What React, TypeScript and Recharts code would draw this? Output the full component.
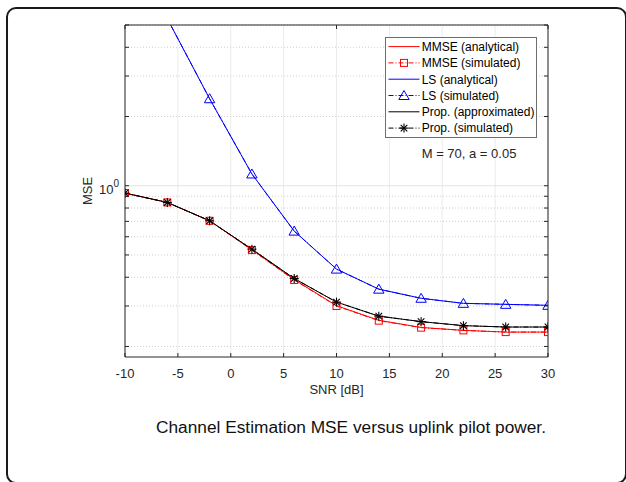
import { LineChart, Line, XAxis, YAxis, CartesianGrid, Legend } from 'recharts'

// SNR points (dB)
const snrDb = [-10, -6, -2, 2, 6, 10, 14, 18, 22, 26, 30]

// MSE values
const mmseAnalytical = [0.929, 0.846, 0.704, 0.527, 0.391, 0.301, 0.26, 0.242, 0.235, 0.231, 0.231]
const mmseSimulated = [0.929, 0.846, 0.704, 0.525, 0.389, 0.3, 0.259, 0.2415, 0.235, 0.231, 0.231]
const lsAnalytical = [12.0, 5.33, 2.39, 1.125, 0.635, 0.434, 0.355, 0.324, 0.308, 0.305, 0.302]
const lsSimulated = [12.0, 5.33, 2.39, 1.125, 0.635, 0.434, 0.355, 0.324, 0.308, 0.305, 0.302]
const propApproximated = [0.929, 0.846, 0.704, 0.53, 0.395, 0.312, 0.271, 0.2565, 0.2464, 0.243, 0.243]
const propSimulated = [0.929, 0.846, 0.704, 0.53, 0.395, 0.312, 0.271, 0.2565, 0.2464, 0.243, 0.243]

const seriesNames = [
  'MMSE (analytical)',
  'MMSE (simulated)',
  'LS (analytical)',
  'LS (simulated)',
  'Prop. (approximated)',
  'Prop. (simulated)',
]

const xTicks = [-10, -5, 0, 5, 10, 15, 20, 25, 30]
const yTicks = [0.2, 0.3, 0.4, 0.5, 0.6, 0.7, 0.8, 0.9, 1, 2, 3, 4, 5]
const yMinor = [0.2, 0.3, 0.4, 0.5, 0.6, 0.7, 0.8, 0.9, 2, 3, 4, 5]
const yMajor = [1]
const yDomain = [0.18, 5]
const xDomain = [-10, 30]

const annotation = 'M = 70, a = 0.05'
const caption = 'Channel Estimation MSE versus uplink pilot power.'
const xLabel = 'SNR [dB]'
const yLabel = 'MSE'

const data = snrDb.map((snr, i) => ({
  snr,
  mmseA: mmseAnalytical[i],
  mmseS: mmseSimulated[i],
  lsA: lsAnalytical[i],
  lsS: lsSimulated[i],
  propA: propApproximated[i],
  propS: propSimulated[i],
}))

const DASHDOT = '5 2 1 2'
const FONT = '"Liberation Sans", Arial, Helvetica, sans-serif'
const AXIS = '#262626'
const TICK_LEN = 4
const AX = 1 // thickness reserved for each axis (must be > 0 or it is not drawn)

type Kind = 'square' | 'triangle' | 'star' | null

const SERIES: { key: string; name: string; color: string; dash?: string; marker: Kind }[] = [
  { key: 'mmseA', name: seriesNames[0], color: '#ff0000', marker: null },
  { key: 'mmseS', name: seriesNames[1], color: '#ff0000', dash: DASHDOT, marker: 'square' },
  { key: 'lsA', name: seriesNames[2], color: '#0000ff', marker: null },
  { key: 'lsS', name: seriesNames[3], color: '#0000ff', dash: DASHDOT, marker: 'triangle' },
  { key: 'propA', name: seriesNames[4], color: '#000000', marker: null },
  { key: 'propS', name: seriesNames[5], color: '#000000', dash: DASHDOT, marker: 'star' },
]

function Marker({ kind, cx, cy, color }: { kind: Kind; cx: number; cy: number; color: string }) {
  if (kind === 'square')
    return <rect x={cx - 3.5} y={cy - 3.5} width={7} height={7} fill="none" stroke={color} strokeWidth={1} />
  if (kind === 'triangle')
    return (
      <polygon
        points={`${cx},${cy - 5} ${cx + 5.2},${cy + 4} ${cx - 5.2},${cy + 4}`}
        fill="none"
        stroke={color}
        strokeWidth={1}
      />
    )
  if (kind === 'star')
    return (
      <g stroke={color} strokeWidth={1.1}>
        <line x1={cx - 4.5} y1={cy} x2={cx + 4.5} y2={cy} />
        <line x1={cx} y1={cy - 4.5} x2={cx} y2={cy + 4.5} />
        <line x1={cx - 3.3} y1={cy - 3.3} x2={cx + 3.3} y2={cy + 3.3} />
        <line x1={cx - 3.3} y1={cy + 3.3} x2={cx + 3.3} y2={cy - 3.3} />
      </g>
    )
  return null
}

function BottomTick(props: any) {
  const { x, y, payload } = props
  return (
    <g>
      <line x1={x} y1={y} x2={x} y2={y - TICK_LEN} stroke={AXIS} />
      <text x={x} y={y + 21} textAnchor="middle" fontSize={13} fill={AXIS} fontFamily={FONT}>
        {payload.value}
      </text>
    </g>
  )
}

function TopTick(props: any) {
  const { x, y } = props
  return <line x1={x} y1={y} x2={x} y2={y + TICK_LEN} stroke={AXIS} />
}

function LeftTick(props: any) {
  const { x, y, payload } = props
  return (
    <g>
      <line x1={x} y1={y} x2={x + TICK_LEN} y2={y} stroke={AXIS} />
      {yMajor.includes(payload.value) && (
        <text x={x - 6} y={y + 8.3} textAnchor="end" fontSize={13} fill={AXIS} fontFamily={FONT}>
          10
          <tspan dy={-6.6} fontSize={10}>
            0
          </tspan>
        </text>
      )}
    </g>
  )
}

function RightTick(props: any) {
  const { x, y } = props
  return <line x1={x} y1={y} x2={x - TICK_LEN} y2={y} stroke={AXIS} />
}

function renderXLabel(props: any) {
  const { x, y, width } = props.viewBox
  return (
    <text x={x + width / 2} y={y + 36.5} textAnchor="middle" fontSize={13} fill={AXIS} fontFamily={FONT}>
      {xLabel}
    </text>
  )
}

function renderYLabel(props: any) {
  const { x, y, width, height } = props.viewBox
  const cx = x + width - 37.5
  const cy = y + height / 2
  return (
    <text
      x={cx}
      y={cy}
      transform={`rotate(-90 ${cx} ${cy})`}
      textAnchor="middle"
      dominantBaseline="central"
      fontSize={13}
      fill={AXIS}
      fontFamily={FONT}
    >
      {yLabel}
    </text>
  )
}

function LegendBox() {
  const rowH = 16.3
  return (
    <svg width={152} height={101} style={{ display: 'block' }}>
      <rect x={0.5} y={0.5} width={151} height={100} fill="#fff" stroke="#6e6e6e" />
      {SERIES.map((s, i) => {
        const cy = 9.6 + i * rowH
        return (
          <g key={s.key}>
            <line x1={3.5} y1={cy} x2={34.5} y2={cy} stroke={s.color} strokeDasharray={s.dash} />
            {s.marker && <Marker kind={s.marker} cx={19} cy={cy} color={s.color} />}
            <text x={36.7} y={cy + 4.3} fontSize={12} fill="#000" fontFamily={FONT}>
              {s.name}
            </text>
          </g>
        )
      })}
    </svg>
  )
}

export default function App() {
  return (
    <div style={{ position: 'absolute', left: 0, top: 0, width: 626, height: 482, background: '#fff', overflow: 'hidden' }}>
      <div
        style={{
          position: 'absolute',
          left: 6,
          top: 6.5,
          width: 621,
          height: 477,
          boxSizing: 'border-box',
          border: '2px solid #1a1a1a',
          borderRadius: 10,
        }}
      />
      <div style={{ position: 'absolute', left: 0, top: 0 }}>
        <LineChart
          width={626}
          height={400}
          data={data}
          margin={{ top: 25 - AX, right: 78 - AX, left: 125 - AX, bottom: 43 - AX }}
        >
          <CartesianGrid horizontal={false} stroke="#ebebeb" verticalValues={xTicks} />
          <CartesianGrid vertical={false} stroke="#cfcfcf" strokeDasharray="1 2" horizontalValues={yMinor} />
          <CartesianGrid vertical={false} stroke="#e3e3e3" horizontalValues={yMajor} />
          <XAxis
            dataKey="snr"
            type="number"
            domain={xDomain}
            ticks={xTicks}
            interval={0}
            height={AX}
            tickSize={0}
            tickMargin={0}
            tickLine={false}
            allowDataOverflow
            axisLine={{ stroke: AXIS }}
            tick={<BottomTick />}
            label={renderXLabel}
          />
          <XAxis
            xAxisId="top"
            orientation="top"
            type="number"
            domain={xDomain}
            ticks={xTicks}
            interval={0}
            height={AX}
            tickSize={0}
            tickMargin={0}
            tickLine={false}
            allowDataOverflow
            axisLine={{ stroke: AXIS }}
            tick={<TopTick />}
          />
          <YAxis
            scale="log"
            type="number"
            domain={yDomain}
            ticks={yTicks}
            interval={0}
            width={AX}
            tickSize={0}
            tickMargin={0}
            tickLine={false}
            allowDataOverflow
            axisLine={{ stroke: AXIS }}
            tick={<LeftTick />}
            label={renderYLabel}
          />
          <YAxis
            yAxisId="right"
            orientation="right"
            scale="log"
            type="number"
            domain={yDomain}
            ticks={yTicks}
            interval={0}
            width={AX}
            tickSize={0}
            tickMargin={0}
            tickLine={false}
            allowDataOverflow
            axisLine={{ stroke: AXIS }}
            tick={<RightTick />}
          />
          <Legend
            layout="vertical"
            align="center"
            verticalAlign="middle"
            content={() => <LegendBox />}
            wrapperStyle={{ position: 'absolute', left: 385, top: 37, width: 152, height: 101, margin: 0 }}
          />
          {SERIES.map((s) => (
            <Line
              key={s.key}
              dataKey={s.key}
              name={s.name}
              type="linear"
              stroke={s.color}
              strokeWidth={1}
              strokeDasharray={s.dash}
              isAnimationActive={false}
              activeDot={false}
              dot={
                s.marker
                  ? (p: any) =>
                      p.cx == null || p.cy == null ? (
                        <g key={`${s.key}-${p.index}`} />
                      ) : (
                        <Marker key={`${s.key}-${p.index}`} kind={s.marker} cx={p.cx} cy={p.cy} color={s.color} />
                      )
                  : false
              }
            />
          ))}
        </LineChart>
      </div>
      <svg width={626} height={482} style={{ position: 'absolute', left: 0, top: 0, pointerEvents: 'none' }}>
        <text x={421.7} y={158.3} fontSize={13} fill={AXIS} fontFamily={FONT}>
          {annotation}
        </text>
        <text x={351} y={432.7} textAnchor="middle" fontSize={17.3} fill="#111" fontFamily={FONT}>
          {caption}
        </text>
      </svg>
    </div>
  )
}
